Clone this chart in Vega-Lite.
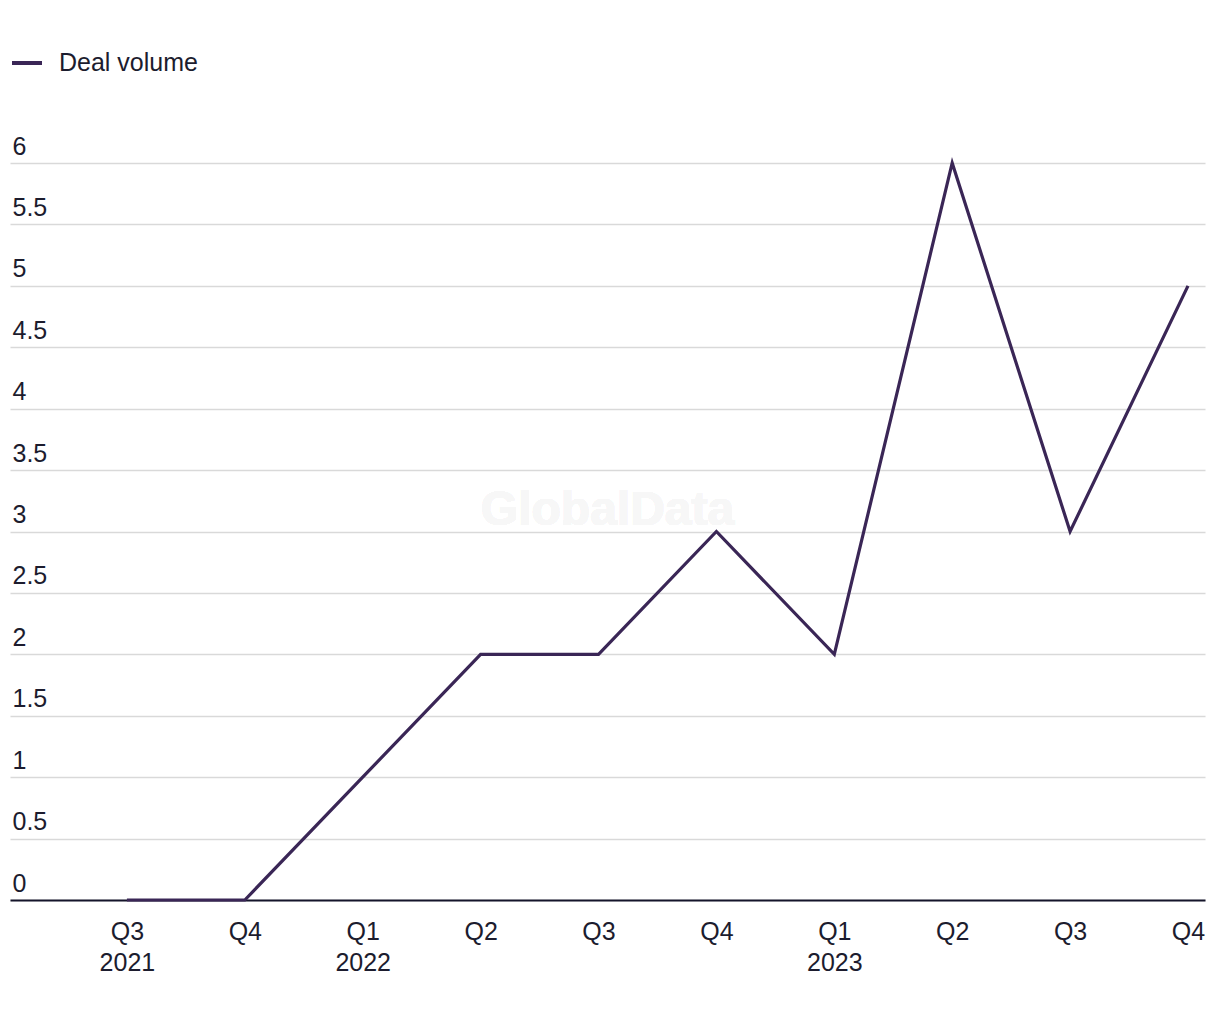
{
  "$schema": "https://vega.github.io/schema/vega-lite/v6.json",
  "width": 1195,
  "height": 737,
  "autosize": {"type": "none"},
  "padding": {"left": 10, "top": 163, "right": 15, "bottom": 120},
  "background": "white",
  "config": {
    "font": "Liberation Sans",
    "view": {"stroke": null},
    "axis": {"labelFont": "Liberation Sans", "labelFontSize": 25, "labelColor": "#1c1c2e"}
  },
  "data": {
    "values": [
      {"quarter": "Q3 2021", "series": "Deal volume", "volume": 0},
      {"quarter": "Q4 2021", "series": "Deal volume", "volume": 0},
      {"quarter": "Q1 2022", "series": "Deal volume", "volume": 1},
      {"quarter": "Q2 2022", "series": "Deal volume", "volume": 2},
      {"quarter": "Q3 2022", "series": "Deal volume", "volume": 2},
      {"quarter": "Q4 2022", "series": "Deal volume", "volume": 3},
      {"quarter": "Q1 2023", "series": "Deal volume", "volume": 2},
      {"quarter": "Q2 2023", "series": "Deal volume", "volume": 6},
      {"quarter": "Q3 2023", "series": "Deal volume", "volume": 3},
      {"quarter": "Q4 2023", "series": "Deal volume", "volume": 5}
    ]
  },
  "layer": [
    {
      "mark": {"type": "text", "text": "GlobalData", "font": "Liberation Sans", "fontWeight": "bold", "fontSize": 48, "color": "#f7f7f7", "baseline": "middle", "align": "center"},
      "encoding": {
        "y": {"datum": 3.17, "type": "quantitative"}
      }
    },
    {
      "mark": {"type": "line", "strokeWidth": 3.2, "strokeJoin": "miter"},
      "encoding": {
        "x": {
          "field": "quarter",
          "type": "ordinal",
          "sort": null,
          "scale": {"type": "point", "padding": 0.568, "align": 0.873},
          "axis": {
            "title": null,
            "domain": true,
            "domainColor": "#14142a",
            "domainWidth": 2,
            "ticks": false,
            "grid": false,
            "labelAngle": 0,
            "labelPadding": 19,
            "labelBaseline": "top",
            "labelLineHeight": 31,
            "labelExpr": "(indexof(datum.value, 'Q1') == 0 || datum.value == 'Q3 2021') ? split(datum.value, ' ') : slice(datum.value, 0, 2)"
          }
        },
        "y": {
          "field": "volume",
          "type": "quantitative",
          "scale": {"domain": [0, 6], "nice": false, "zero": true},
          "axis": {
            "title": null,
            "domain": false,
            "ticks": false,
            "values": [0, 0.5, 1, 1.5, 2, 2.5, 3, 3.5, 4, 4.5, 5, 5.5, 6],
            "format": "~g",
            "labelOverlap": false,
            "grid": true,
            "gridColor": "#d9d9d9",
            "gridWidth": 1.5,
            "labelAlign": "left",
            "labelBaseline": "alphabetic",
            "labelPadding": -2,
            "labelOffset": -9
          }
        },
        "color": {
          "field": "series",
          "type": "nominal",
          "scale": {"range": ["#3a2656"]},
          "legend": {
            "title": null,
            "orient": "none",
            "legendX": 0,
            "legendY": -117,
            "symbolType": "stroke",
            "symbolStrokeWidth": 4,
            "symbolSize": 900,
            "labelFontSize": 25,
            "labelFont": "Liberation Sans",
            "labelColor": "#1c1c2e",
            "labelOffset": 15,
            "padding": 0
          }
        }
      }
    }
  ]
}
